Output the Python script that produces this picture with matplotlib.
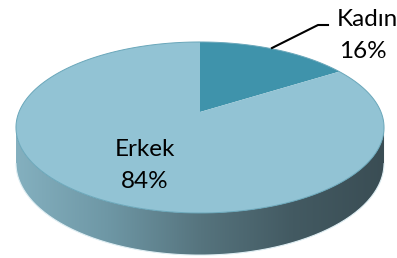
import numpy as np
import matplotlib.pyplot as plt
from matplotlib.patches import Polygon
from matplotlib.colors import LinearSegmentedColormap

labels = ['Kadın', 'Erkek']
values = [16, 84]
top_colors = ['#3f93ab', '#92c3d4']

# pie geometry in pixels (3d look with a bit of perspective)
cx, cy = 200, 112
A, B = 181, 82.7
p = 0.181
H = 34.5


def proj(phi, depth=0.0):
    phi = np.radians(phi)
    u, v = np.cos(phi), np.sin(phi)
    s = 1.0 / (1.0 + p * v)
    return cx + A * u * s, cy - B * v * s + depth * s


def arc(a0, a1, depth=0.0, n=200):
    t = np.linspace(a0, a1, n)
    x, y = proj(t, depth)
    return np.column_stack([x, y])


fig = plt.figure(figsize=(3.97, 2.58), dpi=100)
ax = fig.add_axes([0, 0, 1, 1])
ax.set_xlim(0, 397)
ax.set_ylim(258, 0)
ax.axis('off')

# side wall (front half)
lo = 180 + np.degrees(np.arcsin(p))
hi = 360 - np.degrees(np.arcsin(p))
side = np.vstack([arc(lo, hi), arc(hi, lo, H)])
side_patch = Polygon(side, closed=True, facecolor='none', edgecolor='none')
ax.add_patch(side_patch)
cmap = LinearSegmentedColormap.from_list(
    'side', ['#84b0bf', '#6e97a5', '#56747e', '#435a62', '#3a4d54'])
grad = np.linspace(0, 1, 256).reshape(1, -1)
im = ax.imshow(grad, cmap=cmap, extent=[side[:, 0].min(), side[:, 0].max(),
                                        side[:, 1].max(), side[:, 1].min()],
               aspect='auto', zorder=1)
im.set_clip_path(side_patch)
ax.add_patch(Polygon(arc(lo, hi, H), closed=False, fill=False,
                     edgecolor='#dfeef3', lw=0.8, zorder=2))

# top face slices, clockwise from 12 o'clock
start = 90.0
for lab, val, col in zip(labels, values, top_colors):
    end = start - val / sum(values) * 360.0
    pts = np.vstack([[cx, cy], arc(start, end)])
    ax.add_patch(Polygon(pts, closed=True, facecolor=col, edgecolor='none', zorder=3))
    start = end

ax.add_patch(Polygon(arc(0, 360), closed=True, fill=False,
                     edgecolor='#6aa7ba', lw=0.7, zorder=4))

# labels, one text per line
font = 'Lato'
kw = dict(ha='center', va='center', fontsize=17.5, family=font, zorder=5)
ax.text(367, 19, labels[0], **kw)
ax.text(363, 51, f'{values[0]}%', **kw)
ax.text(145, 150, labels[1], **kw)
ax.text(145, 182, f'{values[1]}%', **kw)
ax.plot([272, 318, 328], [48, 25, 25], color='black', lw=1.5, zorder=5)

fig.savefig('out.png', dpi=100)
